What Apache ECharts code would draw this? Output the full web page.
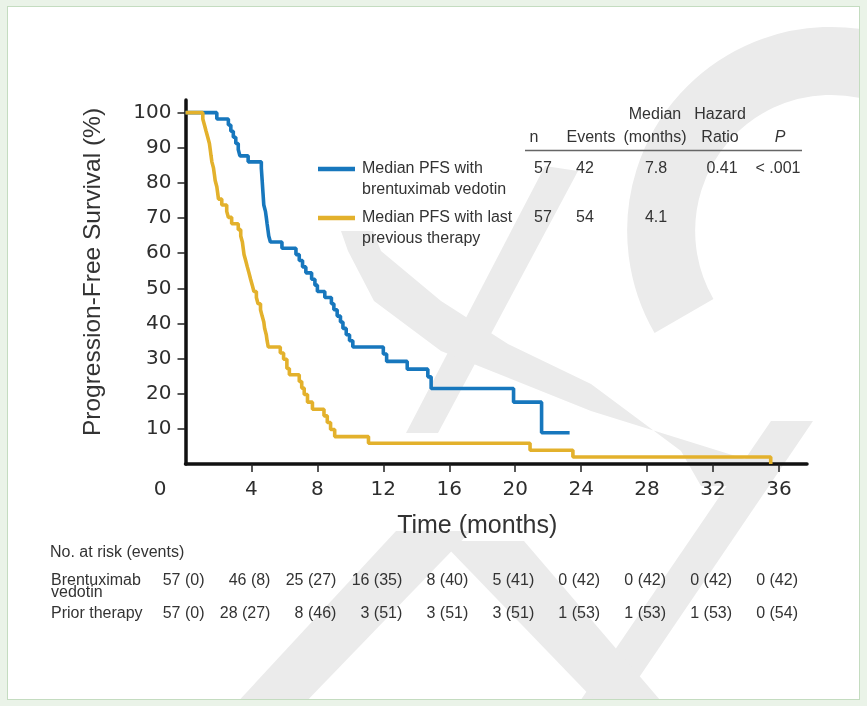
<!DOCTYPE html>
<html><head><meta charset="utf-8">
<script src="https://cdn.jsdelivr.net/npm/echarts@6/dist/echarts.min.js"></script>
<style>
html,body{margin:0;padding:0;background:#eaf3e8;width:867px;height:706px;overflow:hidden;}
#frame{position:absolute;left:7px;top:6px;width:851px;height:692px;background:#fff;border:1px solid #c4dcc0;overflow:hidden;}
#wm{position:absolute;left:0;top:0;}
#chart{position:absolute;left:0;top:0;width:867px;height:706px;}
</style></head><body>
<div id="frame">
<svg id="wm" width="867" height="706" viewBox="7 6 867 706" xmlns="http://www.w3.org/2000/svg">
  <g fill="#ebebeb" stroke="none">
    <polygon points="405,432 437,432 577,170 544,165"/>
    <polygon points="340,230 372,230 380,250 440,300 507,343 590,383 680,450 700,485 765,485 760,463 590,410 440,350 373,300 347,250"/>
    <polygon points="575,706 618,706 812,420 770,420"/>
    <polygon points="395,530 470,530 300,706 232,706"/>
    <polygon points="440,540 523,540 665,706 600,706"/>
  </g>
  <path d="M 683,315 A 170 170 0 1 1 990,172" fill="none" stroke="#ebebeb" stroke-width="68"/>
</svg>
</div>
<div id="chart"></div>
<script>
// ---- data ----
const blueTimes = [0,1.9,2.6,2.75,2.9,3.05,3.2,3.3,3.8,4.6,4.65,4.7,4.75,4.85,4.9,4.95,5.0,5.05,5.15,5.85,6.7,6.9,7.1,7.3,7.65,7.85,8.0,8.45,8.85,9.0,9.2,9.4,9.55,9.75,9.95,10.15,12.0,12.2,13.45,14.7,14.9,19.9,21.6,23.3];
const blueSurv  = [100,98.2,96.5,94.7,93.0,91.2,89.5,87.7,86.0,84.2,80.7,77.2,73.7,71.9,70.2,68.4,66.7,64.9,63.2,61.4,59.6,57.9,56.1,54.4,52.6,50.9,49.1,47.4,45.6,43.9,42.1,40.4,38.6,36.8,35.1,33.3,31.3,29.2,27.0,24.8,21.5,17.6,8.9,8.9];
const yellowTimes = [0,1.05,1.15,1.25,1.35,1.45,1.5,1.55,1.6,1.7,1.75,1.8,1.9,1.95,2.0,2.2,2.5,2.6,2.8,3.2,3.35,3.45,3.5,3.55,3.65,3.75,3.85,3.95,4.05,4.15,4.3,4.4,4.55,4.65,4.75,4.8,4.9,4.95,5.02,5.75,5.95,6.15,6.3,6.9,7.05,7.2,7.4,7.7,8.4,8.6,8.8,9.05,11.1,20.9,23.5,35.5];
const yellowSurv  = [100,98.2,96.5,94.7,93.0,91.2,89.5,87.7,86.0,84.2,82.5,80.7,78.9,77.2,75.4,73.7,71.9,70.2,68.4,66.7,64.9,63.2,61.4,59.6,57.9,56.1,54.4,52.6,50.9,49.1,47.4,45.6,43.9,42.1,40.4,38.6,36.8,35.1,33.3,31.6,29.8,27.2,25.4,23.5,21.6,19.8,17.6,15.6,13.7,11.8,9.8,7.8,5.9,3.9,2.0,0];
const xTicks = [0,4,8,12,16,20,24,28,32,36];
const yTicks = [10,20,30,40,50,60,70,80,90,100];
const seriesNames = [['Median PFS with','brentuximab vedotin'],['Median PFS with last','previous therapy']];
const headTop = ['', '', 'Median', 'Hazard', ''];
const headBottom = ['n','Events','(months)','Ratio','P'];
const rowBlue = ['57','42','7.8','0.41','< .001'];
const rowYellow = ['57','54','4.1','',''];
const riskTitle = 'No. at risk (events)';
const riskLabels = [['Brentuximab','vedotin'],['Prior therapy']];
const riskBlue = ['57 (0)','46 (8)','25 (27)','16 (35)','8 (40)','5 (41)','0 (42)','0 (42)','0 (42)','0 (42)'];
const riskPrior = ['57 (0)','28 (27)','8 (46)','3 (51)','3 (51)','3 (51)','1 (53)','1 (53)','1 (53)','0 (54)'];

const BLUE = '#1777bd', YELLOW = '#e3b12c';
const TXT = '#333333';
const FONT = '"Liberation Sans", Arial, sans-serif';
const NUMFONT = '"DejaVu Sans", sans-serif';

const chart = echarts.init(document.getElementById('chart'), null, {renderer:'canvas'});
const pair = (t, s) => t.map((v, i) => [v, s[i]]);

const option = {
  animation: false,
  backgroundColor: 'transparent',
  grid: {left: 185.5, right: 60, top: 100, bottom: 242, containLabel: false},
  xAxis: {
    type: 'value', min: 0, max: 37.7,
    name: 'Time (months)', nameLocation: 'middle', nameGap: 50,
    nameTextStyle: {fontFamily: FONT, fontSize: 25, color: TXT, padding: [0, 38, 0, 0]},
    axisLine: {show: true, onZero: false, lineStyle: {color: '#111', width: 3.5}},
    axisTick: {show: true, length: 8, inside: false, customValues: xTicks.slice(1), lineStyle: {color: '#222', width: 1.5}},
    axisLabel: {
      customValues: xTicks, margin: 16, fontFamily: NUMFONT, fontSize: 20, color: '#2e2e2e',
      formatter: v => v === 0 ? '{z|0}' : String(v),
      rich: {z: {fontFamily: NUMFONT, fontSize: 20, color: '#2e2e2e', padding: [0, 51, 0, 0]}}
    },
    splitLine: {show: false}
  },
  yAxis: {
    type: 'value', min: 0, max: 103.6,
    name: 'Progression-Free Survival (%)', nameLocation: 'middle', nameGap: 80, nameRotate: 90,
    nameTextStyle: {fontFamily: FONT, fontSize: 24.5, color: TXT, padding: [0, 0, 0, 20]},
    axisLine: {show: true, onZero: false, lineStyle: {color: '#111', width: 3.5}},
    axisTick: {show: true, length: 8, inside: false, customValues: yTicks, lineStyle: {color: '#222', width: 1.5}},
    axisLabel: {customValues: yTicks, margin: 14, fontFamily: NUMFONT, fontSize: 20, color: '#2e2e2e'},
    splitLine: {show: false}
  },
  series: [
    {name: 'blue', type: 'line', step: 'end', data: pair(blueTimes, blueSurv), showSymbol: false, symbol: 'none',
     lineStyle: {color: BLUE, width: 3.6}, z: 3},
    {name: 'yellow', type: 'line', step: 'end', data: pair(yellowTimes, yellowSurv), showSymbol: false, symbol: 'none',
     lineStyle: {color: YELLOW, width: 3.6}, z: 4}
  ]
};
chart.setOption(option);

// ---- legend / summary table and risk table (text placed with the axis scale) ----
const g = [];
const txt = (text, x, y, opts) => g.push({type: 'text', z: 10, style: Object.assign({text, x, y, font: '16px ' + FONT, fill: TXT, textAlign: 'left', textVerticalAlign: 'middle'}, opts || {})});
const hdrX = [534, 591, 655, 720, 780];
const valX = [543, 585, 656, 722, 778];
headTop.forEach((h, i) => h && txt(h, hdrX[i], 115, {textAlign: 'center'}));
headBottom.forEach((h, i) => txt(h, hdrX[i], 138, {textAlign: 'center', font: (h === 'P' ? 'italic ' : '') + '16px ' + FONT}));
g.push({type: 'line', z: 10, shape: {x1: 525, y1: 150.5, x2: 802, y2: 150.5}, style: {stroke: '#666', lineWidth: 1.5}});
[[BLUE, rowBlue, 169], [YELLOW, rowYellow, 218]].forEach(([c, row, y], k) => {
  g.push({type: 'line', z: 10, shape: {x1: 318, y1: y, x2: 355, y2: y}, style: {stroke: c, lineWidth: 4.5}});
  txt(seriesNames[k][0], 362, y);
  txt(seriesNames[k][1], 362, y + 21);
  row.forEach((v, i) => v && txt(v, valX[i], y, {textAlign: 'center'}));
});
txt(riskTitle, 50, 553);
txt(riskLabels[0][0], 51, 581);
txt(riskLabels[0][1], 51, 593);
txt(riskLabels[1][0], 51, 614);
xTicks.forEach((t, i) => {
  const px = chart.convertToPixel({xAxisIndex: 0}, t);
  txt(riskBlue[i], px + 19, 581, {textAlign: 'right'});
  txt(riskPrior[i], px + 19, 614, {textAlign: 'right'});
});
chart.setOption({graphic: g});
</script>
</body></html>
